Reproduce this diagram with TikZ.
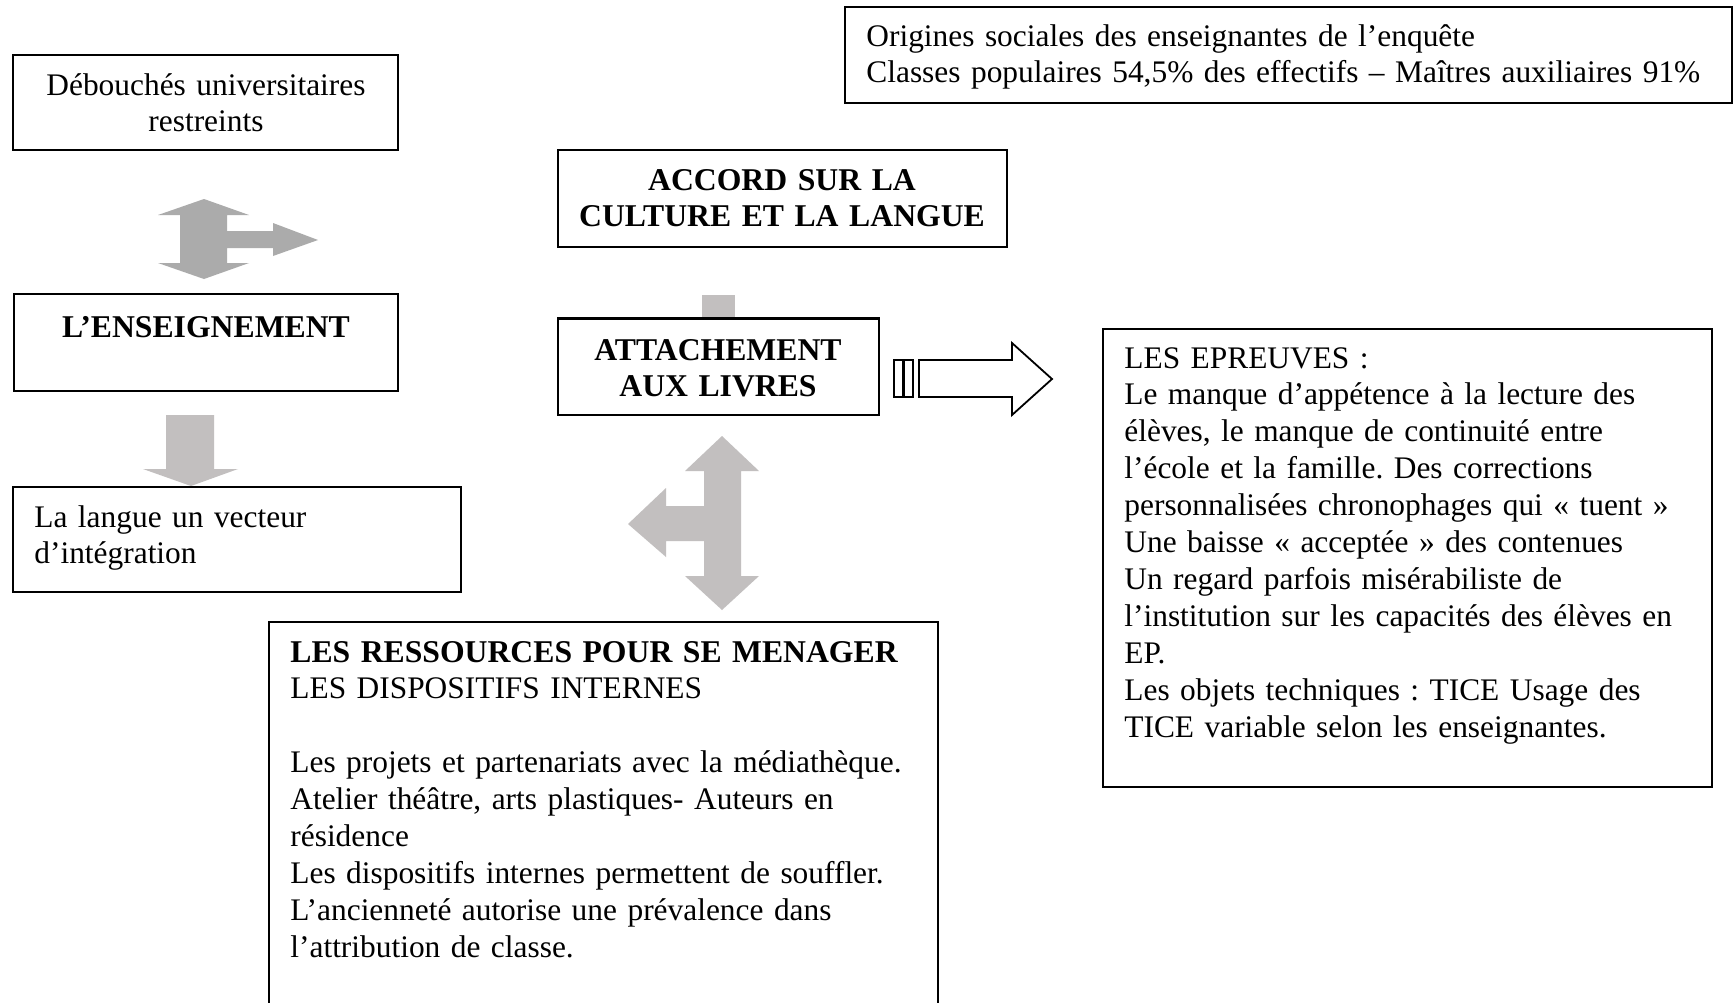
\documentclass[tikz,border=0pt]{standalone}
\usepackage{fontspec}
\setmainfont{Liberation Serif}
\frenchspacing
\begin{document}
\begin{tikzpicture}[x=0.5pt,y=-0.5pt,
  box/.style={draw=black, line width=1pt, inner sep=0pt, fill=white},
  txt/.style={inner sep=0pt, font=\fontsize{15.7}{18.45}\selectfont},
  btxt/.style={inner sep=0pt, font=\fontsize{15.85}{18.45}\selectfont\bfseries},
  grayA/.style={fill=arrowA, draw=none},
  grayB/.style={fill=arrowB, draw=none},
  hollow/.style={draw=black, line width=0.9pt, fill=white, line join=miter}]
\definecolor{arrowA}{HTML}{ABABAB}
\definecolor{arrowB}{HTML}{C2BFBF}
\clip (0,0) rectangle (1735,1002);
\fill[white] (0,0) rectangle (1735,1002);

% boxes
\node[box, minimum width=192.5pt, minimum height=47.5pt] (deb) at (205.5,102.5) {};
\node[box, minimum width=192pt, minimum height=48.5pt] (ens) at (206,342.5) {};
\node[box, minimum width=224pt, minimum height=52.5pt] (lang) at (237,539.5) {};
\node[box, minimum width=224.5pt, minimum height=48.5pt] (accord) at (782.5,198.5) {};
\node[box, minimum width=160.5pt, minimum height=48pt] (attach) at (718.5,367) {};
\node[box, minimum width=443.5pt, minimum height=48pt] (orig) at (1288.5,55) {};
\node[box, minimum width=334.5pt, minimum height=209pt] (res) at (603.5,831) {};
\node[box, minimum width=304.5pt, minimum height=229pt] (epr) at (1407.5,558) {};

% texts
\node[txt, anchor=base west, text width=440pt, align=left] (origT) at (866,46)
  {Origines sociales des enseignantes de l’enquête\\
   Classes populaires 54,5\% des effectifs – Maîtres auxiliaires 91\%};
\node[txt, anchor=base, text width=190pt, align=center] (debT) at (206,95)
  {Débouchés universitaires\\ restreints};
\node[btxt, anchor=base, text width=190pt, align=center] (ensT) at (206,337)
  {L’ENSEIGNEMENT};
\node[txt, anchor=base west, text width=215pt, align=left] (langT) at (34,527)
  {La langue un vecteur\\ d’intégration};
\node[btxt, anchor=base, text width=222pt, align=center] (accordT) at (782,190)
  {ACCORD SUR LA\\ CULTURE ET LA LANGUE};
\node[btxt, anchor=base, text width=158pt, align=center] (attachT) at (718,360)
  {ATTACHEMENT\\ AUX LIVRES};
\node[txt, anchor=base west, text width=320pt, align=left] (resT) at (290,662)
  {\textbf{\fontsize{15.85}{18.45}\selectfont LES RESSOURCES POUR SE MENAGER}\\
   LES DISPOSITIFS INTERNES\\[18.45pt]
   Les projets et partenariats avec la médiathèque.\\
   Atelier théâtre, arts plastiques- Auteurs en\\
   résidence\\
   Les dispositifs internes permettent de souffler.\\
   L’ancienneté autorise une prévalence dans\\
   l’attribution de classe.};
\node[txt, anchor=base west, text width=295pt, align=left] (eprT) at (1124,368)
  {LES EPREUVES :\\
   Le manque d’appétence à la lecture des\\
   élèves, le manque de continuité entre\\
   l’école et la famille. Des corrections\\
   personnalisées chronophages qui « tuent »\\
   Une baisse « acceptée » des contenues\\
   Un regard parfois misérabiliste de\\
   l’institution sur les capacités des élèves en\\
   EP.\\
   Les objets techniques : TICE Usage des\\
   TICE variable selon les enseignantes.};

% arrow A: up/down with right branch
\fill[grayA] (204,199) -- (249,215) -- (227,215) -- (227,231) -- (273,231) -- (273,223)
  -- (318,240) -- (273,256) -- (273,248) -- (227,248) -- (227,263) -- (249,263)
  -- (204,279) -- (158,263) -- (180,263) -- (180,215) -- (158,215) -- cycle;

% arrow B: down
\fill[grayB] (166,415) -- (214,415) -- (214,469) -- (238,469) -- (191,486) -- (143,469) -- (166,469) -- cycle;

% small gray block above ATTACHEMENT
\fill[grayB] (702,295) rectangle (735,319);
\draw[line width=1pt] (attach.north west) -- (attach.north east);

% arrow D: up/down with left branch
\fill[grayB] (722,436) -- (759,471) -- (741,471) -- (741,576) -- (759,576) -- (722,610)
  -- (685,576) -- (704,576) -- (704,541) -- (666,541) -- (666,557) -- (628,524)
  -- (666,488) -- (666,506) -- (704,506) -- (704,471) -- (685,471) -- cycle;

% striped hollow arrow E
\draw[hollow] (894,360) rectangle (903,397);
\draw[hollow] (904,360) rectangle (913,397);
\draw[hollow] (919,360) -- (1012,360) -- (1012,343) -- (1052,379) -- (1012,415) -- (1012,397) -- (919,397) -- cycle;
\end{tikzpicture}
\end{document}
